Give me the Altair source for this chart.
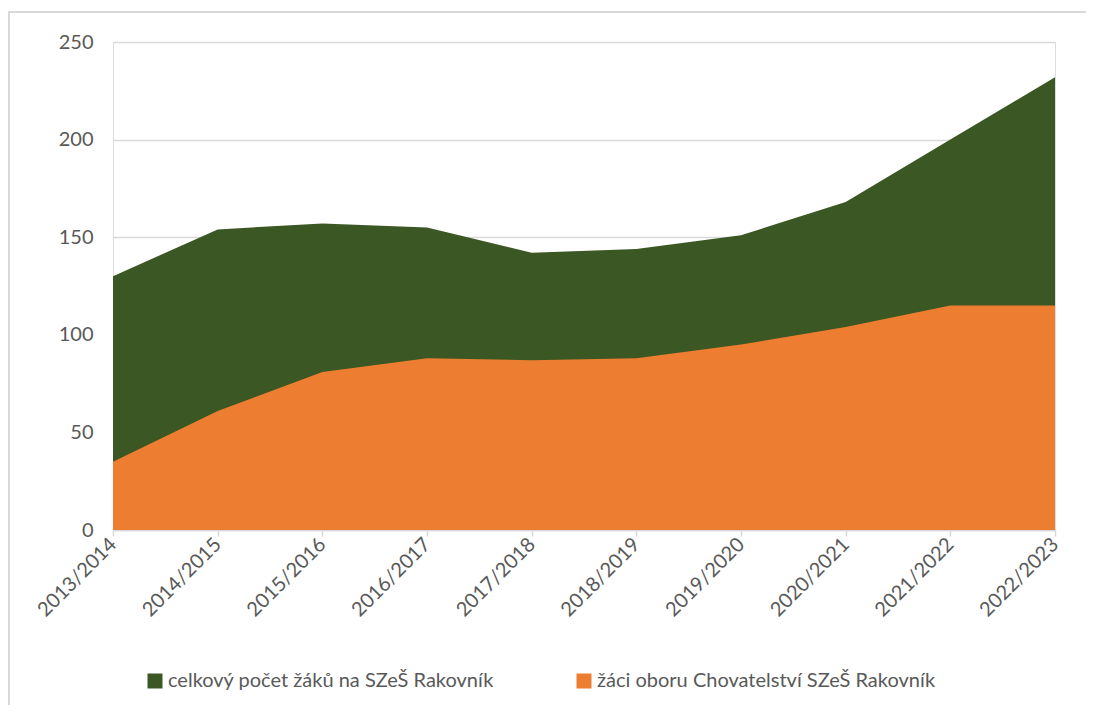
import altair as alt
import pandas as pd

years = ["2013/2014", "2014/2015", "2015/2016", "2016/2017", "2017/2018",
         "2018/2019", "2019/2020", "2020/2021", "2021/2022", "2022/2023"]
total = [130, 154, 157, 155, 142, 144, 151, 168, 200, 232]
chov = [35, 61, 81, 88, 87, 88, 95, 104, 115, 115]

s_total = "celkový počet žáků na SZeŠ Rakovník"
s_chov = "žáci oboru Chovatelství SZeŠ Rakovník"

rows = []
for y, t, c in zip(years, total, chov):
    rows.append({"rok": y, "serie": s_total, "pocet": t})
    rows.append({"rok": y, "serie": s_chov, "pocet": c})
df = pd.DataFrame(rows)

FONT = "Lato"
GREEN = "#3A5724"
ORANGE = "#ED7D31"

color = alt.Color(
    "serie:N",
    scale=alt.Scale(domain=[s_total, s_chov], range=[GREEN, ORANGE]),
    legend=alt.Legend(
        title=None, orient="none", direction="horizontal",
        legendX=32, legendY=629,
        symbolType="square", symbolSize=225, symbolStrokeWidth=0,
        symbolOpacity=1,
        labelFont=FONT, labelFontSize=20, labelColor="#595959",
        labelOffset=3, columnPadding=80, labelLimit=0,
    ),
)

x = alt.X(
    "rok:O", sort=years, title=None,
    scale=alt.Scale(type="point", padding=0),
    axis=alt.Axis(
        labelAngle=-45, labelAlign="right", labelBaseline="middle",
        labelFont=FONT, labelFontSize=20, labelColor="#595959",
        labelPadding=5,
        domainColor="#D9D9D9", domainWidth=1.5,
        tickColor="#D9D9D9", tickSize=6, tickWidth=1.5,
        grid=False,
    ),
)
y = alt.Y(
    "pocet:Q", title=None, stack=None,
    scale=alt.Scale(domain=[0, 250], nice=False),
    axis=alt.Axis(
        values=[0, 50, 100, 150, 200, 250],
        labelFont=FONT, labelFontSize=20, labelColor="#595959",
        labelPadding=20, domain=False, ticks=False,
        gridColor="#D9D9D9", gridWidth=1.5,
    ),
)

base = alt.Chart(df).mark_area(opacity=1).encode(x=x, y=y, color=color)
green_area = base.transform_filter(alt.datum.serie == s_total)
orange_area = base.transform_filter(alt.datum.serie == s_chov)

border_df = pd.DataFrame({"k": [0]})
border_top = alt.Chart(border_df).mark_rule(color="#D9D9D9", strokeWidth=2).encode(
    x=alt.value(-105), x2=alt.value(980), y=alt.value(-30)
)
border_left = alt.Chart(border_df).mark_rule(color="#D9D9D9", strokeWidth=2).encode(
    x=alt.value(-104), y=alt.value(-30), y2=alt.value(700)
)

chart = alt.layer(green_area, orange_area, border_top, border_left).properties(
    width=942, height=488,
    autosize=alt.AutoSizeParams(type="none"),
    padding={"left": 105, "top": 34, "right": 31, "bottom": 175},
).configure_view(stroke=None).configure(background="white")

chart.save("out.html", embed_options={"renderer": "svg", "actions": False})
